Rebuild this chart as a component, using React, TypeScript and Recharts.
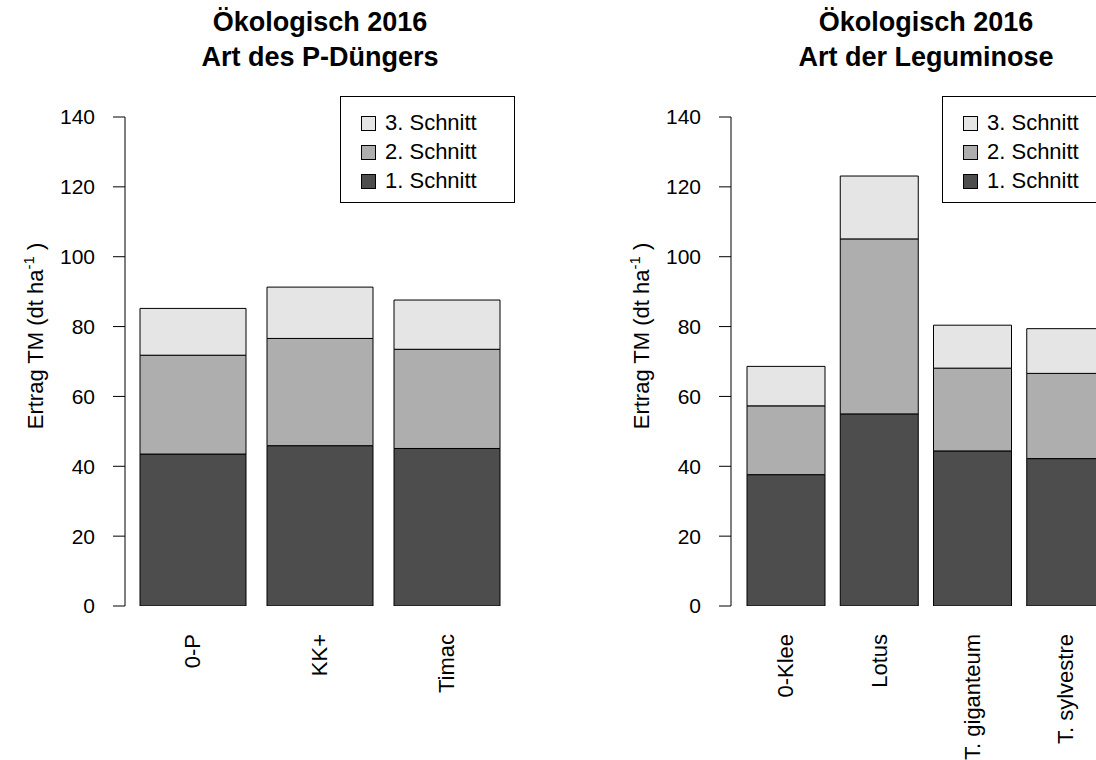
import React from 'react';
import { BarChart, Bar, XAxis, YAxis, Label } from 'recharts';

const FONT = '"Liberation Sans", Arial, Helvetica, sans-serif';

// Ertrag je Schnitt (dt TM/ha)
const pCategories = ['0-P', 'KK+', 'Timac'];
const pSchnitt1 = [43.5, 45.9, 45.1];
const pSchnitt2 = [28.3, 30.7, 28.4];
const pSchnitt3 = [13.4, 14.7, 14.1];

const legCategories = ['0-Klee', 'Lotus', 'T. giganteum', 'T. sylvestre'];
const legSchnitt1 = [37.6, 55.0, 44.4, 42.2];
const legSchnitt2 = [19.7, 50.1, 23.7, 24.4];
const legSchnitt3 = [11.3, 18.0, 12.3, 12.8];

const yTicks = [0, 20, 40, 60, 80, 100, 120, 140];
const seriesNames = ['1. Schnitt', '2. Schnitt', '3. Schnitt'];
const seriesColors = ['#4D4D4D', '#AEAEAE', '#E5E5E5'];

const PANEL_W = 606;
const LABEL_TOP = 634;

function RotatedTick(props: any) {
  const { x, payload } = props;
  return (
    <text
      transform={`translate(${x},${LABEL_TOP}) rotate(-90)`}
      textAnchor="end"
      dy="0.35em"
      fontSize={22}
      fontFamily={FONT}
      fill="#000"
    >
      {payload.value}
    </text>
  );
}

function YTitle() {
  return (
    <text
      transform="translate(35,336) rotate(-90)"
      textAnchor="middle"
      dy="0.35em"
      fontSize={22}
      fontFamily={FONT}
      fill="#000"
    >
      Ertrag TM (dt ha
      <tspan dy={-9} fontSize={15}>
        -1
      </tspan>
      <tspan dy={9}> )</tspan>
    </text>
  );
}

function LegendBox({ left }: { left: number }) {
  const order = [2, 1, 0];
  return (
    <div
      style={{
        position: 'absolute',
        left,
        top: 96,
        width: 175,
        height: 107,
        border: '1px solid #000',
        boxSizing: 'border-box',
        background: '#fff',
        fontFamily: FONT,
        fontSize: 22,
      }}
    >
      {order.map((i, row) => (
        <div
          key={seriesNames[i]}
          style={{ position: 'absolute', left: 20, top: 13 + row * 29, height: 26, display: 'flex', alignItems: 'center' }}
        >
          <span
            style={{
              width: 15,
              height: 15,
              boxSizing: 'border-box',
              border: '1px solid #000',
              background: seriesColors[i],
              display: 'inline-block',
            }}
          />
          <span style={{ marginLeft: 9, whiteSpace: 'nowrap' }}>{seriesNames[i]}</span>
        </div>
      ))}
    </div>
  );
}

interface PanelProps {
  offset: number;
  subtitle: string;
  categories: string[];
  s1: number[];
  s2: number[];
  s3: number[];
  barSize: number;
  pad: number;
}

function Panel({ offset, subtitle, categories, s1, s2, s3, barSize, pad }: PanelProps) {
  const data = categories.map((name, i) => ({ name, s1: s1[i], s2: s2[i], s3: s3[i] }));
  const keys = ['s1', 's2', 's3'];
  return (
    <div style={{ position: 'absolute', left: offset, top: 0, width: PANEL_W, height: 760 }}>
      <div
        style={{
          position: 'absolute',
          left: 320 - 250,
          top: 5,
          width: 500,
          textAlign: 'center',
          fontFamily: FONT,
          fontWeight: 'bold',
          fontSize: 27,
          lineHeight: '35px',
        }}
      >
        Ökologisch 2016
        <br />
        {subtitle}
      </div>
      <BarChart
        width={PANEL_W}
        height={760}
        data={data}
        margin={{ top: 117, right: 92, bottom: 54, left: 25 }}
      >
        <XAxis
          dataKey="name"
          height={100}
          axisLine={false}
          tickLine={false}
          interval={0}
          padding={{ left: pad, right: pad }}
          tick={<RotatedTick />}
        />
        <YAxis
          width={100}
          domain={[0, 140]}
          ticks={yTicks}
          allowDataOverflow
          tickSize={12}
          tickMargin={18}
          stroke="#000"
          tick={{ fontSize: 21, fontFamily: FONT, fill: '#000' }}
        >
          <Label content={<YTitle />} />
        </YAxis>
        {keys.map((k, i) => (
          <Bar
            key={k}
            dataKey={k}
            name={seriesNames[i]}
            stackId="a"
            fill={seriesColors[i]}
            stroke="#000"
            strokeWidth={1}
            barSize={barSize}
            isAnimationActive={false}
          />
        ))}
      </BarChart>
    </div>
  );
}

export default function App() {
  return (
    <div
      style={{
        position: 'absolute',
        left: 0,
        top: 0,
        width: 1096,
        height: 760,
        overflow: 'hidden',
        background: '#fff',
      }}
    >
      <Panel
        offset={0}
        subtitle="Art des P-Düngers"
        categories={pCategories}
        s1={pSchnitt1}
        s2={pSchnitt2}
        s3={pSchnitt3}
        barSize={106}
        pad={4}
      />
      <Panel
        offset={PANEL_W}
        subtitle="Art der Leguminose"
        categories={legCategories}
        s1={legSchnitt1}
        s2={legSchnitt2}
        s3={legSchnitt3}
        barSize={78}
        pad={8}
      />
      <LegendBox left={340} />
      <LegendBox left={942} />
    </div>
  );
}
